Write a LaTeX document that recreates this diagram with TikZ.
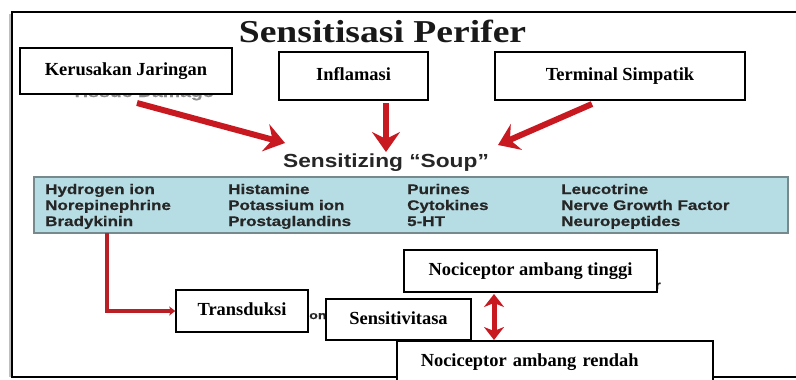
\documentclass[tikz,border=0pt]{standalone}
\usepackage{fontspec}
\setmainfont{Liberation Serif}
\setsansfont{Liberation Sans}
\newfontfamily\slidesans{Liberation Sans Bold}[FakeBold=0.5]
\usepackage{graphicx}
\usetikzlibrary{arrows.meta}

\definecolor{arrowred}{RGB}{200,24,32}
\definecolor{linkred}{RGB}{185,32,38}
\definecolor{soupblue}{RGB}{183,221,228}
\definecolor{soupedge}{RGB}{118,138,142}
\definecolor{souptext}{RGB}{38,38,38}
\definecolor{ghost}{RGB}{140,140,140}

% horizontal stretch used for the slide lettering
\newcommand\widetext[2]{\scalebox{#1}[1]{#2}}

\tikzset{
  labelbox/.style={draw=black, line width=1.5bp, fill=white, inner sep=0pt,
    font=\fontsize{18.5}{20}\selectfont\bfseries,
    text height=12.5bp, text depth=3.5bp},
  soupitem/.style={anchor=base west, inner sep=0pt, text=souptext,
    font=\fontsize{14}{15}\selectfont\slidesans},
  redarrow/.style={draw=arrowred, line width=6bp,
    -{Stealth[length=20bp,width=28bp,inset=7bp]}},
  twoway/.style={draw=arrowred, line width=5bp,
    {Stealth[length=13bp,width=20bp,inset=4bp]}-{Stealth[length=13bp,width=20bp,inset=4bp]}},
  link/.style={draw=linkred, line width=3.5bp,
    -{Stealth[length=6bp,width=9bp,inset=1.5bp]}},
}

\begin{document}
\begin{tikzpicture}[x=1bp,y=-1bp]
\useasboundingbox (0,0) rectangle (796,379);
\clip (0,0) rectangle (796,379);

% outer frame (open on the right)
\draw[black!25, line width=2bp] (9.5,14) -- (9.5,377);
\draw[line width=2bp] (810,12) -- (12,12) -- (12,377) -- (810,377);

% title
\node[anchor=base, inner sep=0pt, font=\fontsize{32}{34}\selectfont\bfseries, text=black!90]
  (title) at (382.5,42) {\widetext{1.18}{Sensitisasi Perifer}};

% lettering left from the original slide, mostly hidden behind the boxes
\node[anchor=base, inner sep=0pt, text=ghost, font=\fontsize{16}{17}\selectfont\slidesans]
  (tissue) at (142.5,97) {\widetext{1.22}{Tissue Damage}};
\node[anchor=base west, inner sep=0pt, text=black!85, font=\fontsize{11}{12}\selectfont\slidesans]
  (frag1) at (309,319) {\widetext{1.3}{on}};
\node[anchor=base west, inner sep=0pt, text=black!85, font=\fontsize{12}{13}\selectfont\slidesans]
  (frag2) at (655,289) {\widetext{1.2}{r}};

% source boxes
\node[labelbox, minimum width=212bp, minimum height=46bp] (kj) at (126,71) {Kerusakan Jaringan};
\node[labelbox, minimum width=149bp, minimum height=48bp] (inf) at (353.5,76) {Inflamasi};
\node[labelbox, minimum width=250bp, minimum height=48bp] (ts) at (620,76) {Terminal Simpatik};

% sensitizing soup
\node[anchor=base, inner sep=0pt, text=souptext, font=\fontsize{19}{20}\selectfont\sffamily\bfseries]
  (souptitle) at (386,167) {\widetext{1.2}{Sensitizing “Soup”}};

\node[draw=soupedge, fill=soupblue, line width=1.2bp, inner sep=0pt,
  minimum width=754bp, minimum height=56bp] (soup) at (411,205) {};

\node[soupitem] (s11) at (45,194)  {\widetext{1.22}{Hydrogen ion}};
\node[soupitem] (s21) at (45,210)  {\widetext{1.22}{Norepinephrine}};
\node[soupitem] (s31) at (45,226)  {\widetext{1.22}{Bradykinin}};
\node[soupitem] (s12) at (228,194) {\widetext{1.22}{Histamine}};
\node[soupitem] (s22) at (228,210) {\widetext{1.22}{Potassium ion}};
\node[soupitem] (s32) at (228,226) {\widetext{1.22}{Prostaglandins}};
\node[soupitem] (s13) at (407,194) {\widetext{1.22}{Purines}};
\node[soupitem] (s23) at (407,210) {\widetext{1.22}{Cytokines}};
\node[soupitem] (s33) at (407,226) {\widetext{1.22}{5-HT}};
\node[soupitem] (s14) at (561,194) {\widetext{1.22}{Leucotrine}};
\node[soupitem] (s24) at (561,210) {\widetext{1.22}{Nerve Growth Factor}};
\node[soupitem] (s34) at (561,226) {\widetext{1.22}{Neuropeptides}};

% arrow ends
\coordinate (kj-out) at (137,103);
\coordinate (inf-out) at (386,103);
\coordinate (ts-out) at (592,104);
\coordinate (soup-left) at (285,143);
\coordinate (soup-top) at (386,152);
\coordinate (soup-right) at (498,145);
\coordinate (brady-out) at (107,233);

\draw[redarrow] (kj-out) -- (soup-left);
\draw[redarrow] (inf-out) -- (soup-top);
\draw[redarrow] (ts-out) -- (soup-right);

% lower boxes
\node[labelbox, minimum width=132bp, minimum height=42bp] (tr) at (242,311) {Transduksi};
\node[labelbox, minimum width=145bp, minimum height=41bp] (sv) at (398.5,319.5) {Sensitivitasa};
\node[labelbox, minimum width=253bp, minimum height=42bp] (nt) at (530.5,271) {Nociceptor ambang tinggi};
\node[labelbox, anchor=north west, text width=268bp, align=left, inner xsep=24bp, inner ysep=13bp]
  (nr) at (396,340) {Nociceptor ambang rendah};

\draw[link] (brady-out) |- (tr.west);
\coordinate (nt-low) at (494,294);
\coordinate (nr-high) at (494,340);
\draw[twoway] (nt-low) -- (nr-high);
\end{tikzpicture}
\end{document}
